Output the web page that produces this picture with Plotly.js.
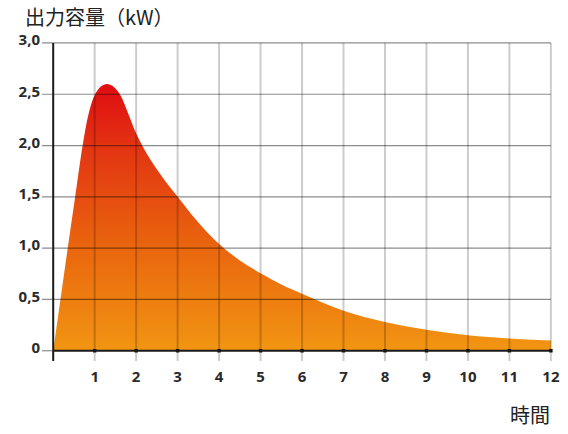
<!DOCTYPE html>
<html>
<head>
<meta charset="utf-8">
<script src="https://cdn.plot.ly/plotly-3.0.1.min.js"></script>
<style>html,body{margin:0;padding:0;background:#fff;}#chart{width:568px;height:434px;}</style>
</head>
<body>
<div id="chart"></div>
<script>
// Output power curve (kW) over time (hours)
const hours = [0, 0.175, 0.35, 0.53, 0.71, 0.86, 1.0, 1.15, 1.3, 1.45, 1.62, 1.8, 2.0, 2.25, 2.6, 3, 3.5, 4, 4.5, 5, 5.5, 6, 7, 8, 9, 10, 11, 12];
const powerKW = [0, 0.5, 1.0, 1.5, 2.0, 2.32, 2.49, 2.575, 2.6, 2.575, 2.49, 2.32, 2.12, 1.925, 1.71, 1.5, 1.25, 1.04, 0.88, 0.755, 0.645, 0.555, 0.39, 0.28, 0.205, 0.15, 0.12, 0.10];
const xTickVals = [1, 2, 3, 4, 5, 6, 7, 8, 9, 10, 11, 12];
const xTickText = ['1', '2', '3', '4', '5', '6', '7', '8', '9', '10', '11', '12'];
const yTickVals = [0, 0.5, 1.0, 1.5, 2.0, 2.5, 3.0];
const yTickText = ['0', '0,5', '1,0', '1,5', '2,0', '2,5', '3,0'];
const titleText = '出力容量（kW）';
const xLabelText = '時間';

const xMin = -0.27, xMax = 12.027, yMin = -0.1, yMax = 3.019;

const shapes = [];
// vertical grid lines
xTickVals.forEach(v => shapes.push({type: 'line', xref: 'x', yref: 'y', x0: v, x1: v, y0: yMin, y1: 3.0,
  line: {color: 'rgba(0,0,0,0.2)', width: 2}, layer: 'above'}));
// horizontal grid lines
yTickVals.filter(v => v > 0).forEach(v => shapes.push({type: 'line', xref: 'x', yref: 'y', x0: xMin, x1: 12.0, y0: v, y1: v,
  line: {color: 'rgba(0,0,0,0.45)', width: 1.2}, layer: 'above'}));
// y=0 tick to the left
shapes.push({type: 'line', xref: 'x', yref: 'y', x0: xMin, x1: 0, y0: 0, y1: 0, line: {color: 'rgba(0,0,0,0.45)', width: 1.2}, layer: 'above'});
// axis lines
shapes.push({type: 'line', xref: 'x', yref: 'y', x0: 0, x1: 12.0, y0: 0, y1: 0, line: {color: '#1a1a1a', width: 2}, layer: 'above'});
shapes.push({type: 'line', xref: 'x', yref: 'y', x0: 0, x1: 0, y0: yMin, y1: 3.0, line: {color: '#1a1a1a', width: 2}, layer: 'above'});

const traces = [
  {
    x: hours, y: powerKW, type: 'scatter', mode: 'lines',
    line: {shape: 'spline', smoothing: 1, width: 0, color: 'rgba(0,0,0,0)'},
    fill: 'tozeroy',
    fillgradient: {type: 'vertical', start: 0, stop: 2.6,
      colorscale: [[0, '#F29512'], [0.4, '#E9640E'], [0.75, '#E33612'], [1, '#E00C12']]},
    hoverinfo: 'skip', showlegend: false
  },
  {
    x: xTickVals, y: xTickVals.map(() => 0), type: 'scatter', mode: 'markers',
    marker: {symbol: 'square', size: 3.5, color: '#111'}, hoverinfo: 'skip', showlegend: false, cliponaxis: false
  }
];

const tickFont = {family: 'Open Sans, sans-serif', size: 15, color: '#2a2a2a', weight: 'bold'};

const layout = {
  width: 568, height: 434,
  margin: {l: 42, r: 16, t: 41, b: 73, pad: 0},
  paper_bgcolor: '#fff', plot_bgcolor: '#fff',
  showlegend: false,
  title: {text: titleText, xref: 'container', yref: 'container', x: 25 / 568, xanchor: 'left', y: 1 - 18 / 434, yanchor: 'middle',
    font: {family: 'Noto Sans CJK JP, sans-serif', size: 20, color: '#222'}},
  xaxis: {range: [xMin, xMax], showgrid: false, zeroline: false, showline: false,
    tickvals: xTickVals, ticktext: xTickText, ticks: '', tickfont: tickFont, ticklabelstandoff: 5, fixedrange: true},
  yaxis: {range: [yMin, yMax], showgrid: false, zeroline: false, showline: false,
    tickvals: yTickVals, ticktext: yTickText, ticks: '', tickfont: tickFont, ticklabelstandoff: 1, ticklabelshift: -3, fixedrange: true},
  shapes: shapes,
  annotations: [{text: xLabelText, xref: 'paper', yref: 'paper', x: (552 - 42) / 510, xanchor: 'right',
    y: -(414 - 361) / 320, yanchor: 'middle', showarrow: false,
    font: {family: 'Noto Sans CJK JP, sans-serif', size: 20, color: '#222'}}]
};

Plotly.newPlot('chart', traces, layout, {displayModeBar: false, staticPlot: true});
</script>
</body>
</html>
